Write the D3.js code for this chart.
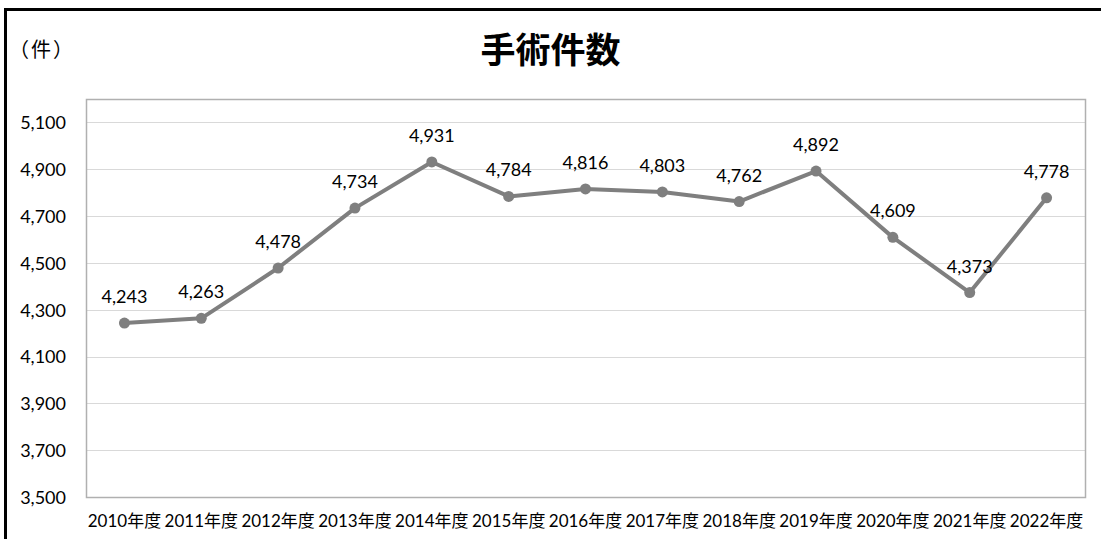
<!DOCTYPE html>
<html>
<head>
<meta charset="utf-8">
<script src="https://cdn.jsdelivr.net/npm/d3@7"></script>
<style>
  body { margin: 0; background: #fff; }
  text { font-family: Lato, "Noto Sans CJK JP", sans-serif; fill: #000; }
</style>
</head>
<body>
<script>
let years = ['2010年度', '2011年度', '2012年度', '2013年度', '2014年度', '2015年度', '2016年度',
    '2017年度', '2018年度', '2019年度', '2020年度', '2021年度', '2022年度'];
let counts = [4243, 4263, 4478, 4734, 4931, 4784, 4816, 4803, 4762, 4892, 4609, 4373, 4778];
let yTicks = [3500, 3700, 3900, 4100, 4300, 4500, 4700, 4900, 5100];

let W = 1101, H = 539;
let margin = {top: 99, right: 16, bottom: 42, left: 86};
let width = W - margin.left - margin.right,
    height = H - margin.top - margin.bottom;

let svg = d3.select('body').append('svg')
    .attr('width', W)
    .attr('height', H);

// outer frame (runs off the right and bottom edges)
svg.append('rect')
    .attr('x', 5.5).attr('y', 9.5)
    .attr('width', W + 20).attr('height', H + 20)
    .style('fill', 'none').style('stroke', '#000').style('stroke-width', 3);

svg.append('text')
    .attr('x', W / 2).attr('y', 63)
    .attr('text-anchor', 'middle')
    .style('font-family', '"Noto Sans CJK JP", sans-serif')
    .style('font-weight', 'bold')
    .style('font-size', '35px')
    .text('手術件数');

svg.append('text')
    .attr('x', 9).attr('y', 57)
    .style('font-family', '"Noto Sans CJK JP", sans-serif')
    .style('font-size', '20px')
    .style('letter-spacing', '2px')
    .text('（件）');

let g = svg.append('g')
    .attr('transform', 'translate(' + margin.left + ',' + margin.top + ')');

let x = d3.scaleBand().domain(years).range([0, width]);
let y = d3.scaleLinear().domain([3500, 5200]).range([height, 0]);

// gridlines
g.selectAll('.grid').data(yTicks).enter().append('line')
    .attr('class', 'grid')
    .attr('x1', 0).attr('x2', width)
    .attr('y1', d => Math.round(y(d)) + 0.5).attr('y2', d => Math.round(y(d)) + 0.5)
    .style('stroke', '#d9d9d9').style('stroke-width', 1);

g.append('rect')
    .attr('x', 0.5).attr('y', 0.5)
    .attr('width', width).attr('height', height)
    .style('fill', 'none').style('stroke', '#b0b0b0').style('stroke-width', 1.5);

let yAxis = g.append('g')
    .call(d3.axisLeft(y).tickValues(yTicks).tickSize(0).tickPadding(20).tickFormat(d3.format(',')));
yAxis.select('.domain').remove();
yAxis.selectAll('text').style('font-size', '18px').attr('dy', '0.35em');

let xAxis = g.append('g')
    .attr('transform', 'translate(0,' + height + ')')
    .call(d3.axisBottom(x).tickSize(0).tickPadding(18));
xAxis.select('.domain').remove();
xAxis.selectAll('text')
    .style('font-family', 'Lato, "Noto Sans CJK JP", sans-serif')
    .style('font-size', '17px');

let cx = (d, i) => x(years[i]) + x.bandwidth() / 2;

let line = d3.line()
    .x(cx)
    .y(d => y(d));

g.append('path')
    .datum(counts)
    .attr('d', line)
    .style('fill', 'none')
    .style('stroke', '#7f7f7f')
    .style('stroke-width', 4)
    .style('stroke-linejoin', 'round');

g.selectAll('.dot').data(counts).enter().append('circle')
    .attr('class', 'dot')
    .attr('cx', cx)
    .attr('cy', d => y(d))
    .attr('r', 5.5)
    .style('fill', '#7f7f7f');

g.selectAll('.lbl').data(counts).enter().append('text')
    .attr('class', 'lbl')
    .attr('x', cx)
    .attr('y', d => y(d) - 20)
    .attr('text-anchor', 'middle')
    .style('font-size', '18px')
    .text(d => d3.format(',')(d));
</script>
</body>
</html>
